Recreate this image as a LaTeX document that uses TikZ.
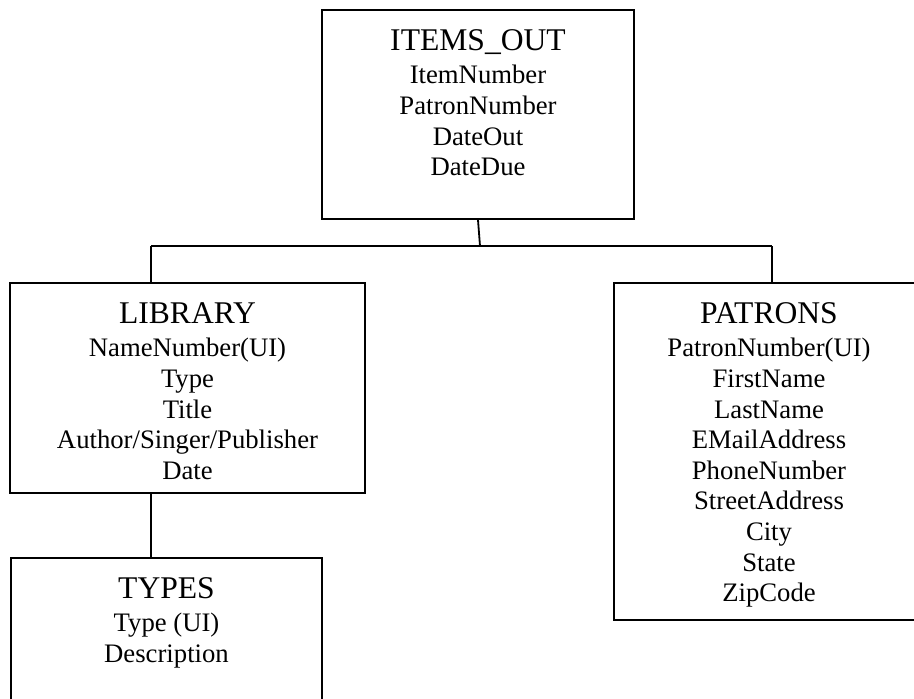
\documentclass[tikz,border=0pt]{standalone}
\usepackage{fontspec}
\setmainfont{Liberation Serif}
\usepackage{tikz}
\usetikzlibrary{positioning}

\newcommand{\tabletitle}[1]{{\fontsize{15.8}{15.8}\selectfont #1}\\[1.45pt]}

\begin{document}
\begin{tikzpicture}[
      x=0.5pt, y=-0.5pt,
      entity/.style={draw, line width=0.9pt, inner sep=0pt},
      fields/.style={inner sep=0pt, align=center, font=\fontsize{13.35}{15.3}\selectfont},
      link/.style={draw, line width=0.9pt}
    ]
    \useasboundingbox (0,0) rectangle (914,698);
    \clip (0,0) rectangle (914,698);

    \node[entity, minimum width=156pt, minimum height=104.5pt] (itemsout) at (478,114.5) {};
    \node[entity, minimum width=177.5pt, minimum height=105pt] (library) at (187.5,388) {};
    \node[entity, minimum width=155pt, minimum height=168.5pt] (patrons) at (769,451.5) {};
    \node[entity, minimum width=155.5pt, minimum height=76pt] (types) at (166.5,634) {};

    \node[fields, below=10pt of itemsout.north] (itemsout-text) {\tabletitle{ITEMS\_OUT}ItemNumber\\PatronNumber\\DateOut\\DateDue};
    \node[fields, below=10pt of library.north] (library-text) {\tabletitle{LIBRARY}NameNumber(UI)\\Type\\Title\\Author/Singer/Publisher\\Date};
    \node[fields, below=10pt of patrons.north] (patrons-text) {\tabletitle{PATRONS}PatronNumber(UI)\\FirstName\\LastName\\EMailAddress\\PhoneNumber\\StreetAddress\\City\\State\\ZipCode};
    \node[fields, below=10pt of types.north] (types-text) {\tabletitle{TYPES}Type (UI)\\Description};

    \coordinate (hub) at (480,246);
    \coordinate (libjoin) at (151,246);
    \coordinate (patjoin) at (772,246);

    \draw[link] (itemsout.south) -- (hub);
    \draw[link] (libjoin) -- (patjoin);
    \draw[link] (libjoin) -- (libjoin |- library.north);
    \draw[link] (patjoin) -- (patjoin |- patrons.north);
    \draw[link] (library.south -| libjoin) -- (types.north -| libjoin);
  \end{tikzpicture}
\end{document}
